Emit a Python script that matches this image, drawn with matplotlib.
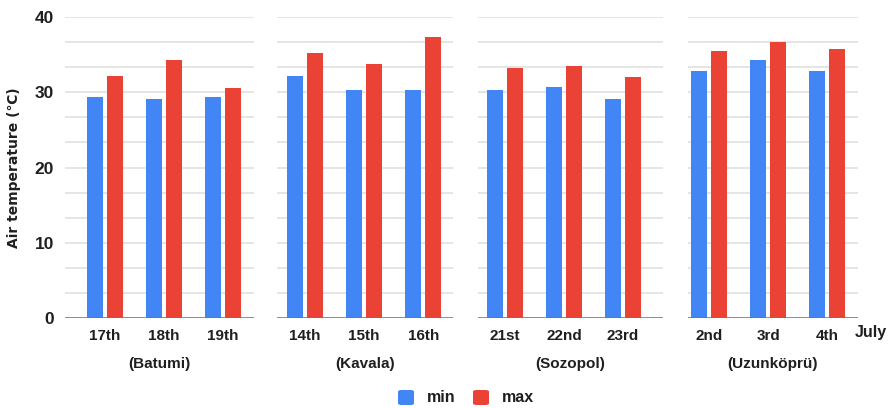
import matplotlib
matplotlib.use("Agg")
import matplotlib.pyplot as plt
from matplotlib.patches import FancyBboxPatch
import numpy as np

plt.rcParams["font.family"] = ["Liberation Sans", "DejaVu Sans"]
plt.rcParams["font.weight"] = "bold"

locations = ["(Batumi)", "(Kavala)", "(Sozopol)", "(Uzunköprü)"]
days = [
    ["17th", "18th", "19th"],
    ["14th", "15th", "16th"],
    ["21st", "22nd", "23rd"],
    ["2nd", "3rd", "4th"],
]
t_min = [
    [29.4, 29.1, 29.3],
    [32.1, 30.3, 30.3],
    [30.3, 30.7, 29.1],
    [32.8, 34.3, 32.8],
]
t_max = [
    [32.2, 34.2, 30.5],
    [35.2, 33.7, 37.3],
    [33.2, 33.5, 32.0],
    [35.5, 36.7, 35.7],
]

BLUE = "#4285F4"
RED = "#EA4335"
W, H = 889, 408

fig = plt.figure(figsize=(W / 100, H / 100), dpi=100)

# panel extents (pixels) and x-limits in group units
panels = [
    (65, 254, -0.678, 2.525),
    (277, 453, -0.478, 2.505),
    (478, 663, -0.456, 2.68),
    (688, 858, -0.36, 2.52),
]
y_top, y_bot = 16.7, 318.3
bar_w = 0.27
off = 0.17

for i, (x0, x1, lo, hi) in enumerate(panels):
    ax = fig.add_axes([x0 / W, 1 - y_bot / H, (x1 - x0) / W, (y_bot - y_top) / H])
    x = np.arange(len(days[i]))
    ax.bar(x - off, t_min[i], width=bar_w, color=BLUE, zorder=3)
    ax.bar(x + off, t_max[i], width=bar_w, color=RED, zorder=3)
    ax.set_xlim(lo, hi)
    ax.set_ylim(0, 40)
    ax.set_yticks([0, 10, 20, 30, 40])
    ax.set_yticks(np.arange(0, 40.01, 10 / 3), minor=True)
    ax.grid(axis="y", which="both", color="#dedede", linewidth=1.1, zorder=0)
    ax.axhline(0, color="#757575", linewidth=1.8, zorder=4)
    for s in ax.spines.values():
        s.set_visible(False)
    ax.tick_params(axis="both", which="both", length=0)
    ax.set_xticks(x)
    ax.set_xticklabels(days[i], fontsize=11, fontweight="bold", color="#1f1f1f")
    ax.tick_params(axis="x", pad=8)
    ax.set_xlabel(locations[i], fontsize=11, fontweight="bold", color="#1f1f1f", labelpad=10)
    if i == 0:
        ax.set_yticklabels(["0", "10", "20", "30", "40"], fontsize=12.5,
                           fontweight="bold", color="#1f1f1f")
        ax.tick_params(axis="y", pad=8)
        ax.set_ylabel("Air temperature (\u2103)", fontsize=10, fontweight="bold",
                      color="#1f1f1f", labelpad=10, family=["DejaVu Sans"])
    else:
        ax.set_yticklabels([])

fig.text(855 / W, 1 - 333 / H, "July", fontsize=11.5, fontweight="bold",
         color="#1f1f1f", va="center", ha="left")

# legend
for (px, label, c) in [(398, "min", BLUE), (473, "max", RED)]:
    box = FancyBboxPatch((px / W, 1 - 405 / H), 16 / W, 15 / H,
                         boxstyle="round,pad=0,rounding_size=0.004",
                         transform=fig.transFigure, facecolor=c, edgecolor="none")
    fig.patches.append(box)
    fig.text((px + 29) / W, 1 - 397.5 / H, label, fontsize=11.5, fontweight="bold",
             color="#1f1f1f", va="center", ha="left")

fig.savefig("out.png", dpi=100, facecolor="white")
